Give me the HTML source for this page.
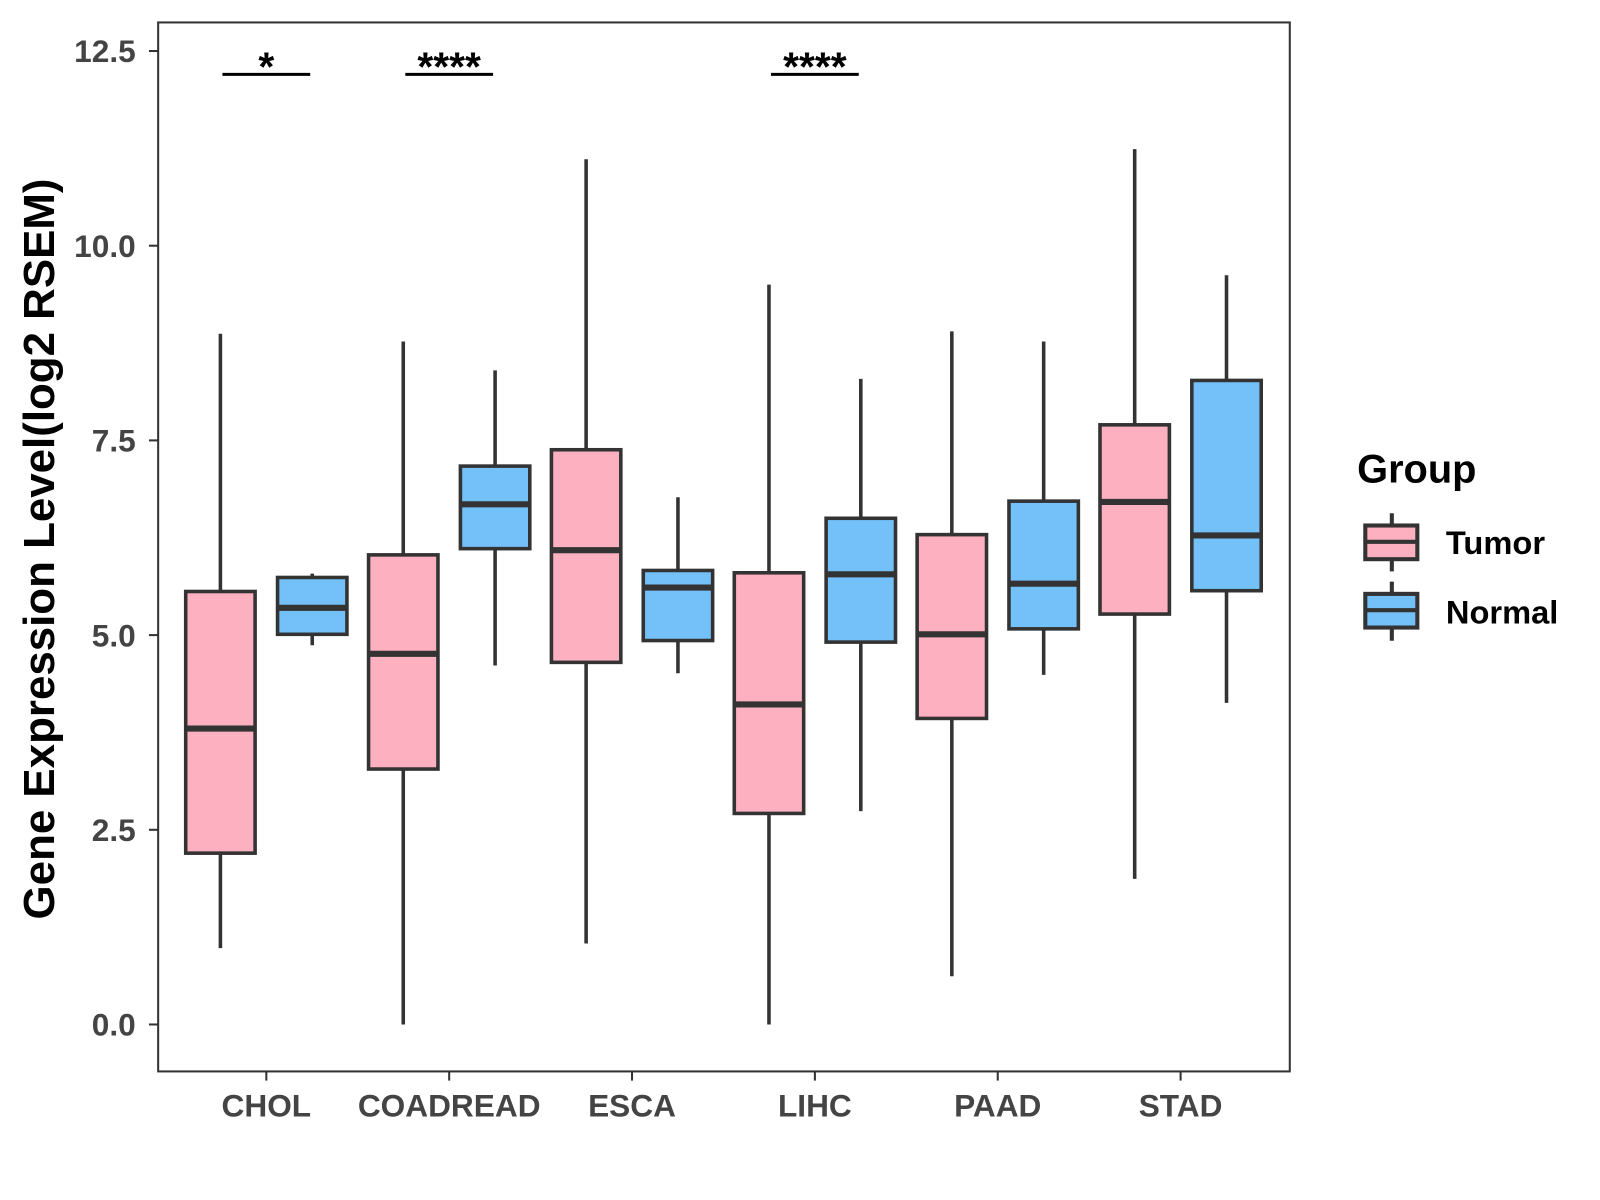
<!DOCTYPE html>
<html><head><meta charset="utf-8"><style>
body{margin:0;background:#fff;}
svg{display:block;font-family:"Liberation Sans",Arial,sans-serif;}
</style></head><body>
<svg width="1600" height="1200">
<rect x="0" y="0" width="1600" height="1200" fill="#fff"/>
<g id="chart" transform="scale(1.0204)">
<rect x="155" y="22" width="1109" height="1028" fill="#fff" stroke="#333" stroke-width="2"/>
<text transform="translate(53,538) rotate(-90)" text-anchor="middle" font-size="43" font-weight="bold" fill="#000">Gene Expression Level(log2 RSEM)</text>
<g>
<text x="1330" y="473" font-size="39" font-weight="bold">Group</text>
<g>
<line x1="1364" y1="503" x2="1364" y2="560" stroke="#333" stroke-width="4"/>
<rect x="1338" y="515" width="51" height="33" fill="#FDB0C0" stroke="#333" stroke-width="4"/>
<line x1="1338" y1="531" x2="1389" y2="531" stroke="#333" stroke-width="4"/>
<text x="1417" y="543" font-size="32" font-weight="bold">Tumor</text>
</g>
<g>
<line x1="1364" y1="570" x2="1364" y2="628" stroke="#333" stroke-width="4"/>
<rect x="1338" y="582" width="51" height="33" fill="#74C0F8" stroke="#333" stroke-width="4"/>
<line x1="1338" y1="598" x2="1389" y2="598" stroke="#333" stroke-width="4"/>
<text x="1417" y="611" font-size="32" font-weight="bold">Normal</text>
</g>
</g>
</g>
</svg>
<script>
const categories=["CHOL","COADREAD","ESCA","LIHC","PAAD","STAD"];
const tumorMin=[0.98,0,1.04,0,0.62,1.87];
const tumorQ1=[2.20,3.28,4.65,2.71,3.93,5.27];
const tumorMed=[3.80,4.76,6.09,4.11,5.01,6.71];
const tumorQ3=[5.56,6.03,7.38,5.80,6.29,7.70];
const tumorMax=[8.87,8.77,11.11,9.50,8.90,11.24];
const normalMin=[4.87,4.61,4.51,2.74,4.49,4.13];
const normalQ1=[5.01,6.11,4.93,4.91,5.08,5.57];
const normalMed=[5.35,6.68,5.61,5.78,5.66,6.28];
const normalQ3=[5.74,7.17,5.83,6.50,6.72,8.27];
const normalMax=[5.79,8.40,6.77,8.29,8.77,9.62];
const yTicks=[0,2.5,5,7.5,10,12.5];
const yTickLabels=["0.0","2.5","5.0","7.5","10.0","12.5"];
const sigCategories=["CHOL","COADREAD","LIHC"];
const sigLabels=["*","****","****"];
const sigValue=[12.2,12.2,12.2];

const svg=document.getElementById('chart');
const NS="http://www.w3.org/2000/svg";
const yS=v=>1004-v*76.32;
const xS=i=>261+i*179.2;
function mk(t,a,p){const e=document.createElementNS(NS,t);for(const k in a)e.setAttribute(k,a[k]);(p||svg).appendChild(e);return e;}

yTicks.forEach((v,i)=>{
  const g=mk('g',{});
  
  
  mk('line',{x1:146,x2:155,y1:yS(v),y2:yS(v),stroke:'#333','stroke-width':2},g);
  const t=mk('text',{x:133,y:yS(v)+11,'text-anchor':'end','font-size':31,'font-weight':'bold',fill:'#444'},g);
  t.textContent=yTickLabels[i];
});
categories.forEach((c,i)=>{
  const g=mk('g',{});
  
  
  mk('line',{x1:xS(i),x2:xS(i),y1:1050,y2:1059,stroke:'#333','stroke-width':2},g);
  const t=mk('text',{x:xS(i),y:1094,'text-anchor':'middle','font-size':31,'font-weight':'bold',fill:'#444'},g);
  t.textContent=c;
});
function box(cx,mn,q1,md,q3,mx,fill,name){
  const g=mk('g',{});
  
  
  mk('line',{x1:cx,x2:cx,y1:yS(mx),y2:yS(mn),stroke:'#333','stroke-width':3.5},g);
  mk('rect',{x:cx-34,y:yS(q3),width:68,height:yS(q1)-yS(q3),fill:fill,stroke:'#333','stroke-width':3.5},g);
  mk('line',{x1:cx-34,x2:cx+34,y1:yS(md),y2:yS(md),stroke:'#333','stroke-width':6},g);
}
categories.forEach((c,i)=>{
  box(xS(i)-45,tumorMin[i],tumorQ1[i],tumorMed[i],tumorQ3[i],tumorMax[i],'#FDB0C0','box-tumor-'+c.toLowerCase());
  box(xS(i)+45,normalMin[i],normalQ1[i],normalMed[i],normalQ3[i],normalMax[i],'#74C0F8','box-normal-'+c.toLowerCase());
});
sigCategories.forEach((c,j)=>{
  const i=categories.indexOf(c);
  const g=mk('g',{});
  
  
  const y=yS(sigValue[j]);
  mk('line',{x1:xS(i)-43,x2:xS(i)+43,y1:y,y2:y,stroke:'#000','stroke-width':3},g);
  const t=mk('text',{x:xS(i),y:y+6,'text-anchor':'middle','font-size':40,'font-weight':'bold'},g);
  t.textContent=sigLabels[j];
});
</script>
</body></html>
